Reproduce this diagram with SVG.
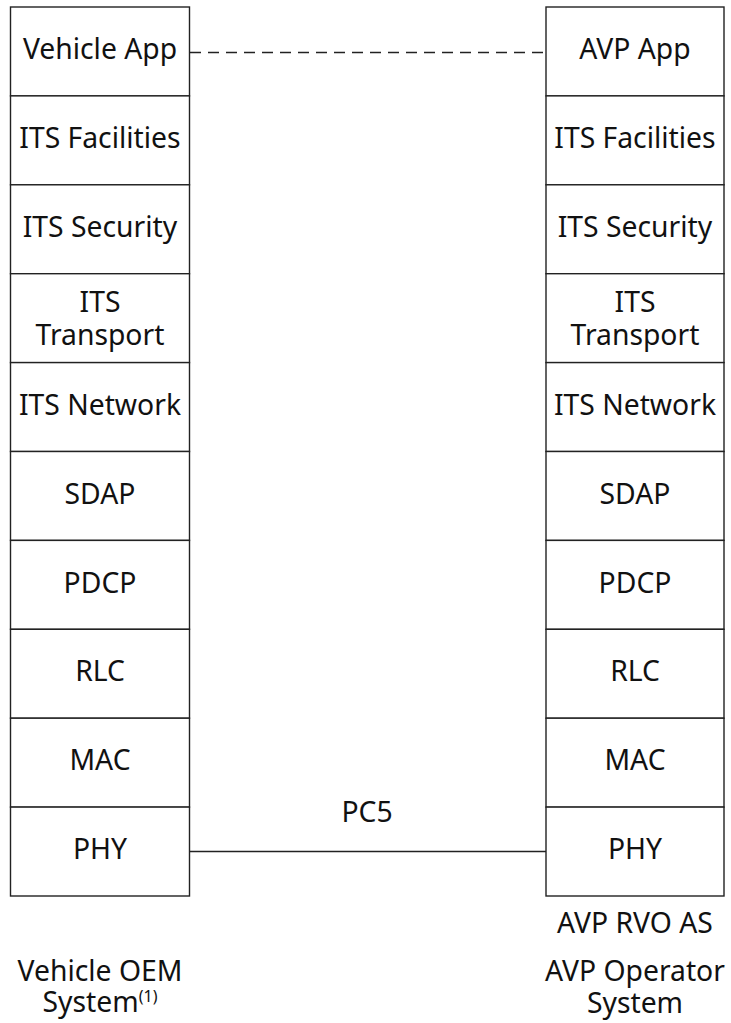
<svg xmlns="http://www.w3.org/2000/svg" width="731" height="1023" viewBox="0 0 731 1023">
<style>
.box{fill:#fff;stroke:#222;stroke-width:1.4}
.t{font-family:"Noto Sans","Open Sans","DejaVu Sans",sans-serif;font-size:28.3px;fill:#111;text-anchor:middle}
.ln{stroke:#222;stroke-width:1.4;fill:none}
.dash{stroke-dasharray:11 7}
</style>
<rect width="731" height="1023" fill="#fff"/>
<g id="connectors">
<line class="ln dash" x1="190" y1="52.5" x2="546" y2="52.5"/>
<line class="ln" x1="190" y1="851.5" x2="546" y2="851.5"/>
<text class="t" x="367" y="821.5">PC5</text>
</g>
<g id="left-stack">
<g id="l-app"><rect class="box" x="10.5" y="7" width="179" height="88.9"/><text class="t" x="100" y="59.2">Vehicle App</text></g>
<g id="l-fac"><rect class="box" x="10.5" y="95.9" width="179" height="88.9"/><text class="t" x="100" y="148.1">ITS Facilities</text></g>
<g id="l-sec"><rect class="box" x="10.5" y="184.8" width="179" height="88.9"/><text class="t" x="100" y="237">ITS Security</text></g>
<g id="l-tra"><rect class="box" x="10.5" y="273.7" width="179" height="88.9"/><text class="t" x="100" y="311.7">ITS</text><text class="t" x="100" y="345.2">Transport</text></g>
<g id="l-net"><rect class="box" x="10.5" y="362.6" width="179" height="88.9"/><text class="t" x="100" y="414.8">ITS Network</text></g>
<g id="l-sdap"><rect class="box" x="10.5" y="451.5" width="179" height="88.9"/><text class="t" x="100" y="503.5">SDAP</text></g>
<g id="l-pdcp"><rect class="box" x="10.5" y="540.4" width="179" height="88.9"/><text class="t" x="100" y="592.5">PDCP</text></g>
<g id="l-rlc"><rect class="box" x="10.5" y="629.3" width="179" height="88.9"/><text class="t" x="100" y="681.4">RLC</text></g>
<g id="l-mac"><rect class="box" x="10.5" y="718.2" width="179" height="88.9"/><text class="t" x="100" y="770.3">MAC</text></g>
<g id="l-phy"><rect class="box" x="10.5" y="807.1" width="179" height="88.9"/><text class="t" x="100" y="859.2">PHY</text></g>
</g>
<g id="right-stack">
<g id="r-app"><rect class="box" x="546" y="7" width="178" height="88.9"/><text class="t" x="635" y="59.2">AVP App</text></g>
<g id="r-fac"><rect class="box" x="546" y="95.9" width="178" height="88.9"/><text class="t" x="635" y="148.1">ITS Facilities</text></g>
<g id="r-sec"><rect class="box" x="546" y="184.8" width="178" height="88.9"/><text class="t" x="635" y="237">ITS Security</text></g>
<g id="r-tra"><rect class="box" x="546" y="273.7" width="178" height="88.9"/><text class="t" x="635" y="311.7">ITS</text><text class="t" x="635" y="345.2">Transport</text></g>
<g id="r-net"><rect class="box" x="546" y="362.6" width="178" height="88.9"/><text class="t" x="635" y="414.8">ITS Network</text></g>
<g id="r-sdap"><rect class="box" x="546" y="451.5" width="178" height="88.9"/><text class="t" x="635" y="503.5">SDAP</text></g>
<g id="r-pdcp"><rect class="box" x="546" y="540.4" width="178" height="88.9"/><text class="t" x="635" y="592.5">PDCP</text></g>
<g id="r-rlc"><rect class="box" x="546" y="629.3" width="178" height="88.9"/><text class="t" x="635" y="681.4">RLC</text></g>
<g id="r-mac"><rect class="box" x="546" y="718.2" width="178" height="88.9"/><text class="t" x="635" y="770.3">MAC</text></g>
<g id="r-phy"><rect class="box" x="546" y="807.1" width="178" height="88.9"/><text class="t" x="635" y="859.2">PHY</text></g>
</g>
<g id="labels">
<text class="t" x="100" y="981">Vehicle OEM</text>
<text class="t" x="100" y="1012">System<tspan font-size="16" dy="-10">(1)</tspan></text>
<text class="t" x="635" y="933">AVP RVO AS</text>
<text class="t" x="635" y="981">AVP Operator</text>
<text class="t" x="635" y="1013">System</text>
</g>
</svg>
